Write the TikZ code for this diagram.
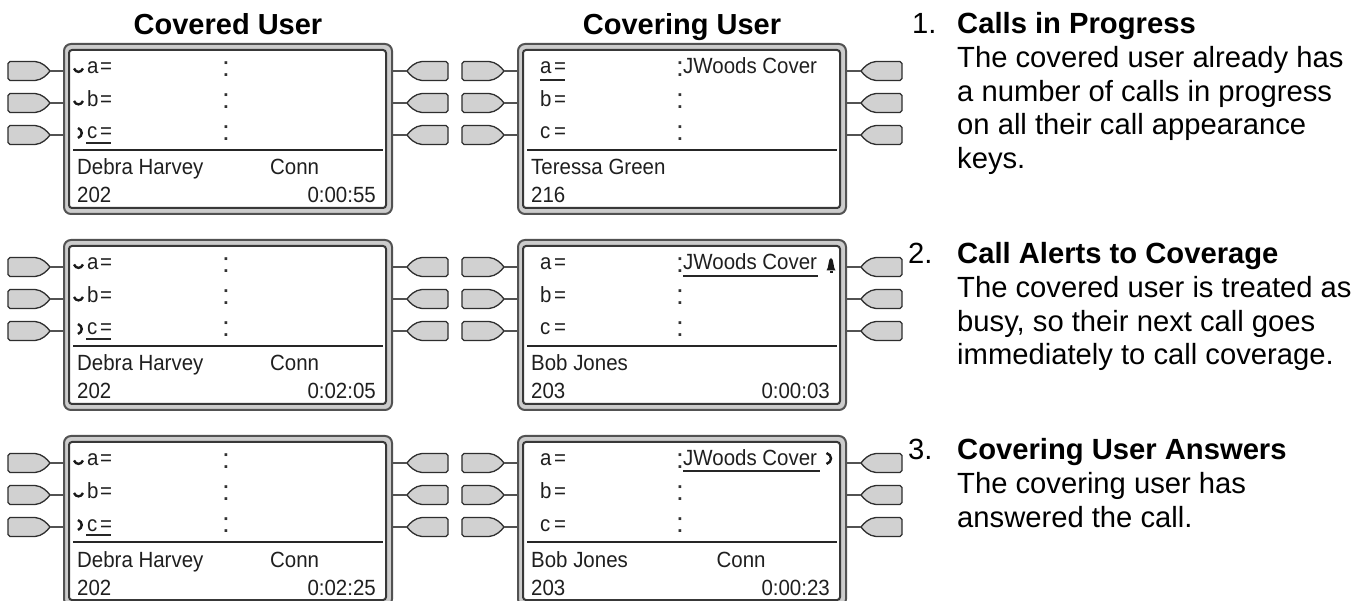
\documentclass[tikz,border=0pt]{standalone}
\usepackage{fontspec}
\setmainfont{Liberation Sans}
\newfontfamily\lcd{Liberation Sans}[FakeStretch=0.93]
\usetikzlibrary{calc}
\tikzset{
  x=1pt,y=-1pt,
  outerp/.style={draw=black!68,line width=2pt,fill=black!20,rounded corners=7pt,minimum width=328pt,minimum height=170pt,inner sep=0pt,outer sep=0pt},
  innerp/.style={draw=black!78,line width=2pt,fill=white,rounded corners=3pt,minimum width=317pt,minimum height=158pt,inner sep=0pt,outer sep=0pt},
  btn/.style={draw=black!82,line width=1.3pt,fill=black!18,line join=round},
  stub/.style={draw=black!68,line width=2.4pt},
  lcdt/.style={font=\lcd\fontsize{22}{22}\selectfont,text=black!88,inner sep=0pt,anchor=base west},
  lcdr/.style={font=\lcd\fontsize{22}{22}\selectfont,text=black!88,inner sep=0pt,anchor=base east},
  colonm/.style={font=\fontsize{28}{28}\selectfont,text=black!80,inner sep=0pt},
  head/.style={font=\bfseries\fontsize{29}{29}\selectfont,inner sep=0pt,anchor=base},
  body/.style={font=\fontsize{29.2}{29.2}\selectfont,inner sep=0pt,anchor=base west},
  bodyb/.style={font=\bfseries\fontsize{29.2}{29.2}\selectfont,inner sep=0pt,anchor=base west},
  icon/.style={line width=2.4pt,draw=black!90},
  uline/.style={line width=1.3pt,draw=black!85},
  divider/.style={line width=1.4pt,draw=black!85},
}
% #1 tip x, #2 y, #3 direction (-1 left, +1 right), #4 length
\newcommand{\btnshape}[4]{%
  \draw[btn] (#1,#2) .. controls (#1+#3*3,#2-4) and (#1+#3*8,#2-9) .. (#1+#3*15,#2-9.5)
    -- (#1+#3*#4-#3*2,#2-9.5) -- (#1+#3*#4,#2-7.5) -- (#1+#3*#4,#2+7.5) -- (#1+#3*#4-#3*2,#2+9.5)
    -- (#1+#3*15,#2+9.5) .. controls (#1+#3*8,#2+9) and (#1+#3*3,#2+4) .. cycle;
}
% #1 name, #2 x left of outer frame, #3 y top of outer frame
\newcommand{\phonepanel}[3]{%
  \node[outerp,anchor=north west] (#1o) at (#2+1,#3+1) {};
  \node[innerp] (#1) at (#2+164.5,#3+86) {};
  \foreach \k/\dy in {1/28,2/60,3/92}{%
    \coordinate (#1l\k) at (#2-13,#3+\dy);
    \coordinate (#1r\k) at (#2+344,#3+\dy);
    \btnshape{#2-13}{#3+\dy}{-1}{42}
    \btnshape{#2+344}{#3+\dy}{1}{41}
    \draw[stub] (#1l\k) -- (#1o.west |- #1l\k);
    \draw[stub] (#1r\k) -- (#1o.east |- #1r\k);
    \node[colonm] (#1col\k) at (#2+163,#3+\dy-2) {:};
  }
  \coordinate (#1ra) at (#2+10,#3+107);
  \coordinate (#1rb) at (#2+320,#3+107);
  \draw[divider] (#1ra) -- (#1rb);
}
% #1 x of outer, #2 y top, #3 letter offset
\newcommand{\keys}[3]{%
  \node[lcdt] (k#1a#2) at (#1+#3,#2+31) {a};
  \node[lcdt] (k#1b#2) at (#1+#3,#2+64) {b};
  \node[lcdt] (k#1c#2) at (#1+#3,#2+96) {c};
  \node[lcdt] (k#1ae#2) at (#1+37,#2+31) {=};
  \node[lcdt] (k#1be#2) at (#1+37,#2+64) {=};
  \node[lcdt] (k#1ce#2) at (#1+37,#2+96) {=};
}
\newcommand{\held}[2]{% #1 x outer, #2 y top
  \draw[icon] (#1+11,#2+25.5) .. controls (#1+13,#2+30) and (#1+18,#2+30) .. (#1+20,#2+25.5);
  \draw[icon] (#1+11,#2+58) .. controls (#1+13,#2+62.5) and (#1+18,#2+62.5) .. (#1+20,#2+58);
  \draw[icon] (#1+15,#2+85) .. controls (#1+20,#2+87) and (#1+20,#2+93) .. (#1+15,#2+95);
  \draw[uline] (#1+23,#2+100) -- (#1+48,#2+100);
}
\begin{document}
\begin{tikzpicture}
\useasboundingbox (0,0) rectangle (1369,601);
\clip (0,0) rectangle (1369,601);
\fill[white] (0,0) rectangle (1369,601);
\node[head] (h1) at (228,35) {Covered User};
\node[head] (h2) at (682,35) {Covering User};
% Covered column
\phonepanel{pa}{63}{43}
\phonepanel{pb}{63}{239}
\phonepanel{pc}{63}{435}
% Covering column
\phonepanel{qa}{517}{43}
\phonepanel{qb}{517}{239}
\phonepanel{qc}{517}{435}
\foreach \yy in {43,239,435}{\keys{63}{\yy}{24}\held{63}{\yy}\keys{517}{\yy}{23}}
\draw[uline] (540,43+37) -- (565,43+37);
% Covered texts
\foreach \nm/\yy/\tm in {a/43/0:00:55,b/239/0:02:05,c/435/0:02:25}{
  \node[lcdt] (dn\nm) at (77,\yy+132) {Debra Harvey};
  \node[lcdt] (dc\nm) at (270,\yy+132) {Conn};
  \node[lcdt] (de\nm) at (77,\yy+160) {202};
  \node[lcdr] (dt\nm) at (376,\yy+160) {\tm};
}
% Covering texts
\node[lcdt] (j1) at (683,43+31) {JWoods Cover};
\node[lcdt] (n1) at (531,43+132) {Teressa Green};
\node[lcdt] (e1) at (531,43+160) {216};
\node[lcdt] (j2) at (683,239+31) {JWoods Cover};
\draw[uline] (683,239+37) -- (818,239+37);
\node[lcdt] (n2) at (531,239+132) {Bob Jones};
\node[lcdt] (e2) at (531,239+160) {203};
\node[lcdr] (t2) at (830,239+160) {0:00:03};
\node[lcdt] (j3) at (683,435+31) {JWoods Cover};
\draw[uline] (683,435+36) -- (820,435+36);
\node[lcdt] (n3) at (531,435+132) {Bob Jones};
\node[lcdt] (c3) at (716.5,435+132) {Conn};
\node[lcdt] (e3) at (531,435+160) {203};
\node[lcdr] (t3) at (830,435+160) {0:00:23};
% bell
\fill[black!90] (826.5,270.5) .. controls (829,268) and (828,258.5) .. (831,258) .. controls (834,258.5) and (833,268) .. (835.5,270.5) -- cycle;
\fill[black!90] (829.5,271) rectangle (832.5,273);
% handset
\draw[icon] (826.5,453) .. controls (832.5,455) and (832.5,462) .. (826.5,464);
% Right notes
\node[body] (n1a) at (912,34) {1.};
\node[bodyb] (n1b) at (957,34) {Calls in Progress};
\node[body] (n1c) at (957,68) {The covered user already has};
\node[body] (n1d) at (957,102) {a number of calls in progress};
\node[body] (n1e) at (957,135) {on all their call appearance};
\node[body] (n1f) at (957,169) {keys.};
\node[body] (n2a) at (908,264) {2.};
\node[bodyb] (n2b) at (957,264) {Call Alerts to Coverage};
\node[body] (n2c) at (957,298) {The covered user is treated as};
\node[body] (n2d) at (957,332) {busy, so their next call goes};
\node[body] (n2e) at (957,365) {immediately to call coverage.};
\node[body] (n3a) at (908,460) {3.};
\node[bodyb] (n3b) at (957,460) {Covering User Answers};
\node[body] (n3c) at (957,494) {The covering user has};
\node[body] (n3d) at (957,527) {answered the call.};
\end{tikzpicture}
\end{document}
